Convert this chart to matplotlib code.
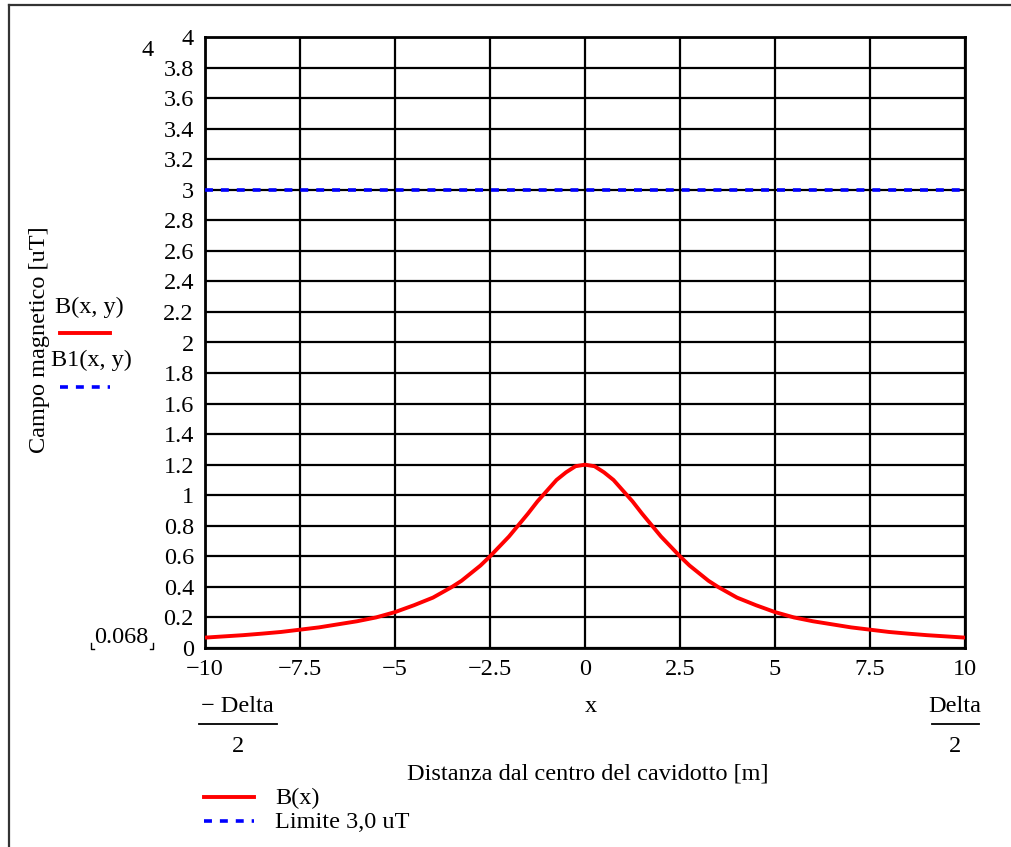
import matplotlib
matplotlib.use("Agg")
import matplotlib.pyplot as plt
from matplotlib.lines import Line2D

plt.rcParams['font.family'] = ['Liberation Serif', 'DejaVu Serif']

# Data
x_vals = [-10, -9.5, -9, -8.5, -8, -7.5, -7, -6.5, -6, -5.5, -5, -4.5, -4, -3.5, -3.25, -3,
          -2.75, -2.5, -2.25, -2, -1.75, -1.5, -1.25, -1, -0.75, -0.5, -0.25, 0,
          0.25, 0.5, 0.75, 1, 1.25, 1.5, 1.75, 2, 2.25, 2.5, 2.75, 3, 3.25, 3.5, 4, 4.5, 5,
          5.5, 6, 6.5, 7, 7.5, 8, 8.5, 9, 9.5, 10]
b_vals = [0.068, 0.076, 0.084, 0.094, 0.105, 0.12, 0.135, 0.155, 0.175, 0.2, 0.235,
          0.28, 0.33, 0.4, 0.44, 0.49, 0.54, 0.6, 0.665, 0.73, 0.805, 0.88, 0.96, 1.03,
          1.10, 1.15, 1.19, 1.2,
          1.19, 1.15, 1.10, 1.03, 0.96, 0.88, 0.805, 0.73, 0.665, 0.6, 0.54, 0.49, 0.44,
          0.4, 0.33, 0.28, 0.235, 0.2, 0.175, 0.155, 0.135, 0.12,
          0.105, 0.094, 0.084, 0.076, 0.068]
limit_x = [-10, 10]
limit_y = [3.0, 3.0]
x_ticks = [-10, -7.5, -5, -2.5, 0, 2.5, 5, 7.5, 10]
x_tick_labels = ["\u221210", "\u22127.5", "\u22125", "\u22122.5", "0", "2.5", "5", "7.5", "10"]
y_ticks = [round(0.2 * i, 1) for i in range(21)]
y_tick_labels = ["%g" % v for v in y_ticks]

W, H = 1012, 847
fig = plt.figure(figsize=(W / 100, H / 100), dpi=100)

def px(x, y):
    return (x / W, 1 - y / H)

FS = 17.5

ax = fig.add_axes([205 / W, 1 - 648 / H, (965 - 205) / W, (648 - 37) / H])
ax.set_xlim(-10, 10)
ax.set_ylim(0, 4)
ax.set_xticks(x_ticks)
ax.set_xticklabels(x_tick_labels)
ax.set_yticks(y_ticks)
ax.set_yticklabels(y_tick_labels)
ax.tick_params(length=0, labelsize=FS)
ax.tick_params(axis='y', pad=8)
ax.tick_params(axis='x', pad=8)
ax.grid(True, color='black', lw=1.6)
ax.set_axisbelow(True)
for s in ax.spines.values():
    s.set_linewidth(2)
    s.set_color('black')

ax.plot(x_vals, b_vals, color='#ff0000', lw=2.8, solid_capstyle='butt', solid_joinstyle='round', zorder=3)
ax.plot(limit_x, limit_y, color='#0000ff', lw=2.6, dashes=(2.2, 2.2), zorder=3)

# outer frame
fig.add_artist(Line2D([9 / W, 9 / W], [0, 1 - 5 / H], color='#333333', lw=1.6))
fig.add_artist(Line2D([9 / W, 1], [1 - 5 / H, 1 - 5 / H], color='#333333', lw=1.6))

# axis limit labels
fig.text(*px(148, 50), "4", ha='center', va='center', fontsize=FS)
fig.text(*px(121, 637), "0.068", ha='center', va='center', fontsize=FS)
for xs, ys in [([91, 91, 94], [643, 649, 649]), ([153, 153, 150], [643, 649, 649])]:
    fig.add_artist(Line2D([a / W for a in xs], [1 - b / H for b in ys], color='black', lw=1))

# y label
fig.text(*px(40, 340), "Campo magnetico [uT]", rotation=90, ha='center', va='center', fontsize=FS)

# left legend
fig.text(*px(89, 307), "B(x, y)", ha='center', va='center', fontsize=FS)
fig.add_artist(Line2D([60 / W, 110 / W], [1 - 333 / H] * 2, color='#ff0000', lw=2.8))
fig.text(*px(91, 360), "B1(x, y)", ha='center', va='center', fontsize=FS)
fig.add_artist(Line2D([60 / W, 110 / W], [1 - 387 / H] * 2, color='#0000ff', lw=2.6, dashes=(2.2, 2.2)))

# x-axis annotations
fig.text(*px(237, 706), "\u2212 Delta", ha='center', va='center', fontsize=FS)
fig.add_artist(Line2D([199 / W, 277 / W], [1 - 724 / H] * 2, color='black', lw=1.3))
fig.text(*px(238, 746), "2", ha='center', va='center', fontsize=FS)
fig.text(*px(591, 706), "x", ha='center', va='center', fontsize=FS)
fig.text(*px(955, 706), "Delta", ha='center', va='center', fontsize=FS)
fig.add_artist(Line2D([932 / W, 979 / W], [1 - 724 / H] * 2, color='black', lw=1.3))
fig.text(*px(955, 746), "2", ha='center', va='center', fontsize=FS)
fig.text(*px(588, 774), "Distanza dal centro del cavidotto [m]", ha='center', va='center', fontsize=FS)

# bottom legend
fig.add_artist(Line2D([204 / W, 254 / W], [1 - 797 / H] * 2, color='#ff0000', lw=2.8))
fig.text(*px(275, 798), "B(x)", ha='left', va='center', fontsize=FS)
fig.add_artist(Line2D([204 / W, 254 / W], [1 - 821 / H] * 2, color='#0000ff', lw=2.6, dashes=(2.2, 2.2)))
fig.text(*px(275, 822), "Limite 3,0 uT", ha='left', va='center', fontsize=FS)

fig.savefig("out.png", dpi=100, facecolor='white')
